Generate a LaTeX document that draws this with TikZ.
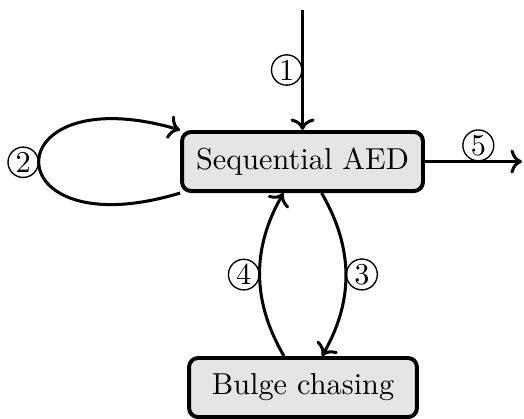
\documentclass[tikz,border=0pt]{standalone}
\usetikzlibrary{arrows.meta}
\begin{document}
\begin{tikzpicture}[x=0.33pt,y=-0.33pt,
  box/.style={draw,line width=1.3pt,rounded corners=3pt,fill=gray!20,minimum height=19.5pt,inner sep=0pt},
  arr/.style={->,line width=1pt},
  lbl/.style={draw,circle,line width=0.45pt,inner sep=0.6pt,fill=none}]
\useasboundingbox (0,0) rectangle (524,418);
\node[box,minimum width=79.5pt] (seq) at (302.5,161.5) {Sequential AED};
\node[box,minimum width=75.2pt] (bul) at (303,387.5) {Bulge chasing};
\coordinate (top) at (302.5,10);
\coordinate (out) at (522,161.5);
\draw[arr] (top) -- (seq.north) node[midway,left,lbl] {1};
\draw[arr] (seq.east) -- (out) node[pos=0.55,above,lbl] {5};
\draw[arr] (seq.south west) .. controls (-8,250) and (-8,75) .. (seq.north west) node[pos=0.5,left,lbl] {2};
\draw[arr] ([xshift=6.3pt]seq.south) to[bend left] node[midway,right,lbl] {3} ([xshift=6.3pt]bul.north);
\draw[arr] ([xshift=-6.3pt]bul.north) to[bend left] node[midway,left,lbl] {4} ([xshift=-6.3pt]seq.south);
\end{tikzpicture}
\end{document}
